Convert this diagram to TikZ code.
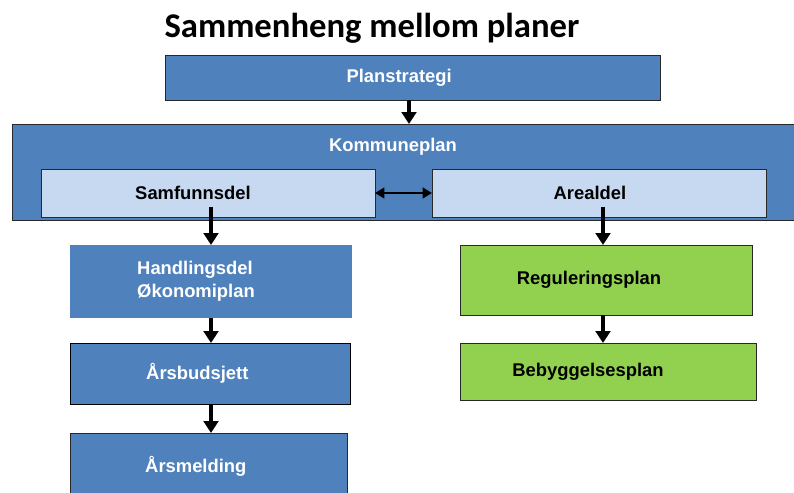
\documentclass[tikz,border=0pt]{standalone}
\usepackage{fontspec}
\setmainfont{Liberation Sans}
\newfontfamily\titlefont{Carlito}
\usetikzlibrary{arrows.meta,calc,positioning}

\definecolor{planblue}{RGB}{79,129,189}
\definecolor{planlight}{RGB}{198,217,240}
\definecolor{plangreen}{RGB}{146,208,80}
\definecolor{planedge}{RGB}{40,40,40}

\tikzset{every picture/.style={line width=0.75pt}}
\tikzset{
  planbox/.style={rectangle,inner sep=0pt,outer sep=0pt,draw=planedge,line width=0.75pt,
    font=\fontsize{13.8}{17}\selectfont\bfseries},
  bluebox/.style={planbox,fill=planblue,text=white},
  lightbox/.style={planbox,fill=planlight,text=black},
  greenbox/.style={planbox,fill=plangreen,text=black},
  flow/.style={line width=3pt,-{Triangle[width=11pt,length=9pt]}},
  twoway/.style={line width=2.2pt,{Triangle[width=8pt,length=7pt]}-{Triangle[width=8pt,length=7pt]}}
}
% pushes the text of a box to the left
\newcommand{\lpush}[1]{\hspace*{#1}}

\begin{document}
\begin{tikzpicture}[x=0.75pt,y=0.75pt,yscale=-1,xscale=1]
\useasboundingbox (0,0) rectangle (794,493);

% Title
\node (title) at (372,28) {\titlefont\fontsize{26}{30}\selectfont\bfseries Sammenheng mellom planer};

%Shape: Rectangle
\node [bluebox,minimum width=371.25pt,minimum height=33.75pt] (planstrategi) at (412.5,77.5) {Planstrategi\lpush{20pt}};
%Shape: Rectangle
\node [bluebox,minimum width=591pt,minimum height=72pt] (kommuneplan) at (406,172) {};
% Text Node
\node [font=\fontsize{13.8}{17}\selectfont\bfseries,text=white] (kommunetekst) at (393,147) {Kommuneplan};
%Shape: Rectangle
\node [lightbox,minimum width=250.5pt,minimum height=36pt] (samfunnsdel) at (208,193) {Samfunnsdel\lpush{22.5pt}};
%Shape: Rectangle
\node [lightbox,minimum width=250.5pt,minimum height=36pt] (arealdel) at (599,193) {Arealdel\lpush{13.5pt}};

%Shape: Rectangle
\node [bluebox,draw=none,minimum width=211.5pt,minimum height=54.75pt,align=left] (handlingsdel) at (211,281.5) {Handlingsdel\lpush{22.5pt}\\Økonomiplan\lpush{22.5pt}};
%Shape: Rectangle
\node [bluebox,draw=black,minimum width=210pt,minimum height=45.75pt] (budsjett) at (210,373.5) {Årsbudsjett\lpush{19pt}};
%Shape: Rectangle
\node [bluebox,minimum width=207.75pt,minimum height=50.25pt] (melding) at (208.5,466.5) {Årsmelding\lpush{19pt}};

%Shape: Rectangle
\node [greenbox,minimum width=219pt,minimum height=52.5pt] (regulering) at (606,280) {Reguleringsplan\lpush{25.5pt}};
%Shape: Rectangle
\node [greenbox,minimum width=222pt,minimum height=42.75pt] (bebyggelse) at (608,371.5) {Bebyggelsesplan\lpush{30pt}};

%Arrows
\draw [flow] (planstrategi.south -| 409,0) -- (kommuneplan.north -| 409,0);
\draw [twoway] (samfunnsdel) -- (arealdel);
\draw [flow] ($(samfunnsdel.south -| handlingsdel.north)+(0,-10)$) -- (handlingsdel.north);
\draw [flow] ($(arealdel.south -| 603,0)+(0,-10)$) -- (regulering.north -| 603,0);
\draw [flow] (handlingsdel.south) -- (handlingsdel.south |- budsjett.north);
\draw [flow] (handlingsdel.south |- budsjett.south) -- (handlingsdel.south |- melding.north);
\draw [flow] (regulering.south -| 603,0) -- (bebyggelse.north -| 603,0);
\end{tikzpicture}
\end{document}
